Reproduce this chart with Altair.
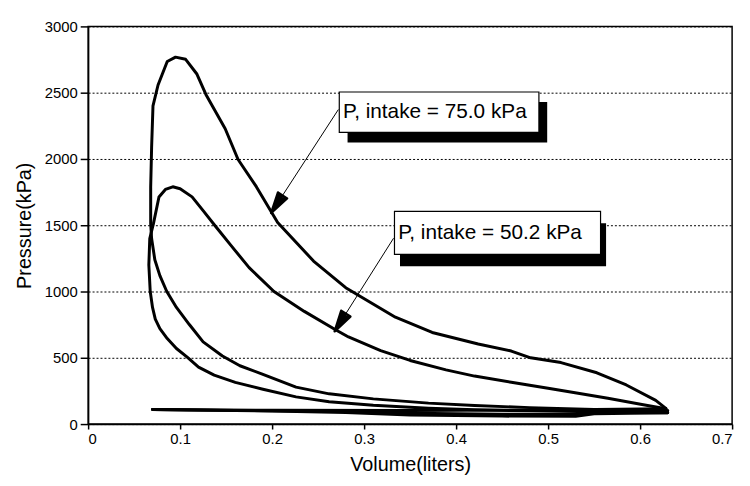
import math
import altair as alt
import pandas as pd

FONT = "Liberation Sans"

# ---- P, intake = 75.0 kPa loop: compression -> combustion -> expansion
v_75 = [0.630, 0.590, 0.550, 0.480, 0.420, 0.370, 0.310, 0.262, 0.226, 0.190,
        0.165, 0.146, 0.125, 0.110, 0.096, 0.0855, 0.078, 0.0725, 0.069, 0.068,
        0.068, 0.069, 0.0705, 0.076, 0.086, 0.095, 0.106, 0.118, 0.128, 0.149,
        0.163, 0.183, 0.206, 0.245, 0.280, 0.334, 0.374, 0.424, 0.460, 0.481,
        0.514, 0.553, 0.585, 0.617, 0.628]
p_75 = [100, 104, 110, 124, 140, 158, 190, 228, 279, 375,
        440, 513, 620, 751, 880, 1000, 1120, 1240, 1400, 1512,
        1790, 2084, 2400, 2558, 2735, 2768, 2752, 2643, 2487, 2228,
        1996, 1789, 1521, 1230, 1029, 806, 691, 604, 551, 500,
        464, 387, 295, 179, 119]

# ---- P, intake = 50.2 kPa loop: compression -> combustion -> expansion
v_50 = [0.630, 0.590, 0.550, 0.480, 0.420, 0.370, 0.310, 0.262, 0.226, 0.190,
        0.160, 0.137, 0.120, 0.108, 0.096, 0.086, 0.078, 0.073, 0.070, 0.0675,
        0.066, 0.067, 0.071, 0.077, 0.084, 0.092, 0.100, 0.113, 0.125, 0.138,
        0.155, 0.175, 0.202, 0.235, 0.268, 0.283, 0.318, 0.350, 0.389, 0.420,
        0.460, 0.500, 0.531, 0.565, 0.602, 0.628]
p_50 = [85, 88, 92, 100, 108, 120, 142, 169, 205, 263,
        315, 369, 430, 503, 570, 645, 720, 792, 880, 1000,
        1200, 1400, 1512, 1713, 1770, 1790, 1775, 1714, 1610, 1496,
        1350, 1180, 1000, 850, 716, 657, 554, 480, 409, 362,
        315, 270, 235, 195, 148, 115]

# ---- pumping strokes
v_exh = [0.628, 0.500, 0.350, 0.200, 0.070]
p_exh = [115, 106, 103, 104, 110]
v_int75 = [0.070, 0.200, 0.280, 0.350, 0.450, 0.530, 0.550, 0.630]
p_int75 = [110, 100, 95, 82, 75, 72, 88, 100]
v_int50 = [0.070, 0.200, 0.280, 0.350, 0.450, 0.530, 0.550, 0.630]
p_int50 = [110, 98, 88, 68, 60, 58, 78, 85]

x_ticks = [0, 0.1, 0.2, 0.3, 0.4, 0.5, 0.6, 0.7]
y_ticks = [0, 500, 1000, 1500, 2000, 2500, 3000]

# ---- annotations
labels = ["P, intake = 75.0 kPa", "P, intake = 50.2 kPa"]
box_v0 = [0.273, 0.333]
box_v1 = [0.490, 0.557]
box_p0 = [2200, 1280]
box_p1 = [2505, 1605]
shadow_dv = [0.009, 0.006]
shadow_dp = [75, 90]
arrow_v0 = [0.272, 0.332]
arrow_p0 = [2373, 1402]
arrow_v1 = [0.199, 0.268]
arrow_p1 = [1593, 700]
HEAD_LEN, HEAD_HALF_W = 21.0, 5.5   # arrowhead size in pixels

W, H = 651, 402
XMAX, YMAX = 0.7, 3000

rows = []
for name, vs, ps in [("c75", v_75, p_75), ("c50", v_50, p_50), ("exh", v_exh, p_exh),
                     ("i75", v_int75, p_int75), ("i50", v_int50, p_int50)]:
    for i, (v, p) in enumerate(zip(vs, ps)):
        rows.append({"seg": name, "i": i, "v": v, "p": p})
lines_df = pd.DataFrame(rows)

ann = []
for k in range(2):
    ann.append({
        "label": labels[k],
        "bv0": box_v0[k], "bv1": box_v1[k], "bp0": box_p0[k], "bp1": box_p1[k],
        "sv0": box_v0[k] + shadow_dv[k], "sv1": box_v1[k] + shadow_dv[k],
        "sp0": box_p0[k] - shadow_dp[k], "sp1": box_p1[k] - shadow_dp[k],
        "tv": box_v0[k] + 0.004, "tp": (box_p0[k] + box_p1[k]) / 2,
        "av0": arrow_v0[k], "ap0": arrow_p0[k], "av1": arrow_v1[k], "ap1": arrow_p1[k],
    })
ann_df = pd.DataFrame(ann)


def to_px(v, p):
    return v * W / XMAX, (YMAX - p) * H / YMAX


def to_data(x, y):
    return x * XMAX / W, YMAX - y * YMAX / H


# arrowheads: filled triangles drawn as a fan of strokes from the tip
head_rows = []
for k in range(2):
    sx, sy = to_px(arrow_v0[k], arrow_p0[k])
    tx, ty = to_px(arrow_v1[k], arrow_p1[k])
    L = math.hypot(tx - sx, ty - sy)
    dx, dy = (tx - sx) / L, (ty - sy) / L
    bx, by = tx - HEAD_LEN * dx, ty - HEAD_LEN * dy
    nx, ny = -dy, dx
    offs = [1.0, 0.5, 0.0, -0.5, -1.0]
    base_pts = [(bx + f * HEAD_HALF_W * nx, by + f * HEAD_HALF_W * ny) for f in offs]
    pts = []
    for bp in base_pts:
        pts += [bp, (tx, ty)]
    pts += [base_pts[-1], base_pts[0]]
    for j, (x, y) in enumerate(pts):
        v, p = to_data(x, y)
        head_rows.append({"h": k, "o": j, "hv": v, "hp": p})
heads_df = pd.DataFrame(head_rows)

xscale = alt.Scale(domain=[0, XMAX], nice=False, zero=False)
yscale = alt.Scale(domain=[0, YMAX], nice=False, zero=False)

xaxis = alt.Axis(values=x_ticks, grid=False, tickSize=5, labelPadding=3,
                 labelExpr="datum.value == 0 ? '0' : format(datum.value, '.1f')",
                 titlePadding=8)
yaxis = alt.Axis(values=y_ticks, format="d", grid=True, gridDash=[2, 2],
                 gridColor="#000000", gridWidth=1, tickSize=8, labelPadding=3,
                 titlePadding=10)


def X(f):
    return alt.X(f, type="quantitative", scale=xscale, axis=xaxis, title="Volume(liters)")


def Y(f):
    return alt.Y(f, type="quantitative", scale=yscale, axis=yaxis, title="Pressure(kPa)")


lines = alt.Chart(lines_df).mark_line(
    color="black", strokeWidth=3, strokeJoin="round", strokeCap="round"
).encode(x=X("v"), y=Y("p"), detail="seg:N", order="i:Q")

base = alt.Chart(ann_df)
shadow = base.mark_rect(color="black").encode(x=X("sv0"), x2="sv1", y=Y("sp0"), y2="sp1")
box = base.mark_rect(fill="white", stroke="black", strokeWidth=1.2).encode(
    x=X("bv0"), x2="bv1", y=Y("bp0"), y2="bp1")
text = base.mark_text(align="left", baseline="middle", font=FONT, fontSize=21,
                      color="black").encode(x=X("tv"), y=Y("tp"), text="label:N")
arrow = base.mark_rule(color="black", strokeWidth=1).encode(
    x=X("av0"), y=Y("ap0"), x2="av1", y2="ap1")
heads = alt.Chart(heads_df).mark_line(
    color="black", strokeWidth=2.5, strokeJoin="round", strokeCap="round",
    interpolate="linear"
).encode(x=X("hv"), y=Y("hp"), detail="h:N", order="o:Q")

chart = alt.layer(lines, shadow, box, text, arrow, heads).properties(
    width=W, height=H,
    autosize=alt.AutoSizeParams(type="none"),
    padding={"left": 81, "top": 16, "right": 10, "bottom": 60},
    background="white",
).configure_view(
    stroke="black", strokeWidth=1.5
).configure_axis(
    domainColor="black", domainWidth=1.5, tickColor="black", tickWidth=1.5,
    labelFont=FONT, labelFontSize=15, labelColor="black",
    titleFont=FONT, titleFontSize=20, titleFontWeight="normal", titleColor="black",
)

chart.save("out.html", embed_options={"renderer": "svg", "actions": False})
